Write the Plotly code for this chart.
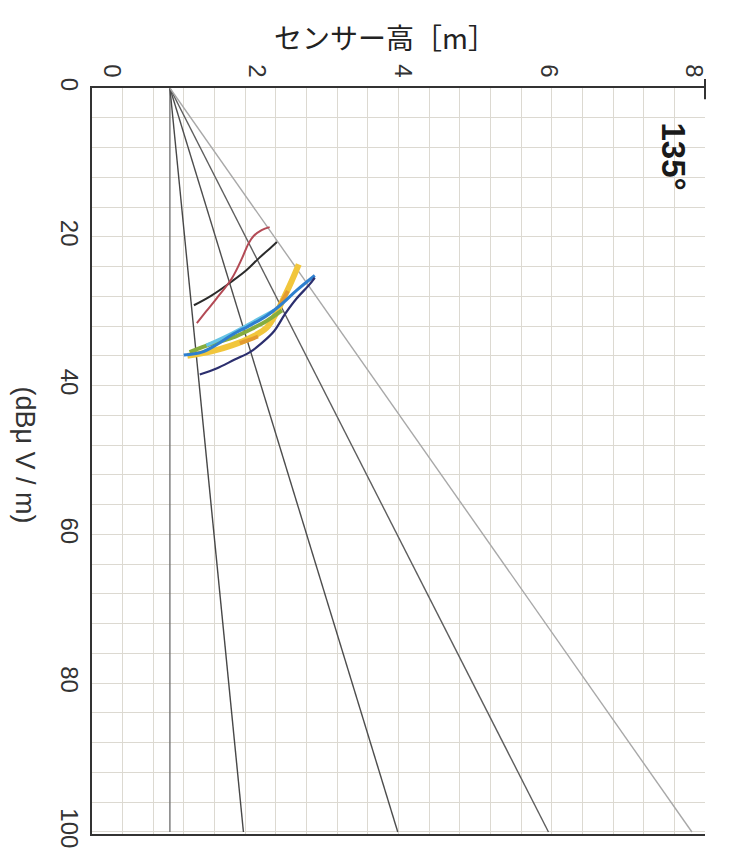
import plotly.graph_objects as go

# Radiating reference lines: all start at the same sensor height at 0 dB
# and reach the listed heights at 100 dBμV/m (first one is the vertical).
fan_start_h = 0.80
fan_start_db = 0
fan_end_db = 100
fan_end_h = [0.80, 1.81, 3.93, 6.00, 7.97]
fan_colors = ["#767676", "#474747", "#4d4d4d", "#5e5e5e", "#a8a8a8"]

# Measured curves (sensor height [m], level [dBμV/m])
red_h = [1.17, 1.30, 1.44, 1.65, 1.79, 1.88, 1.95, 2.06, 2.17]
red_db = [31.6, 30.0, 28.3, 25.6, 22.9, 20.9, 19.9, 19.1, 18.7]

black_h = [1.13, 1.37, 1.65, 1.85, 2.02, 2.17, 2.27]
black_db = [29.2, 27.9, 26.0, 24.5, 22.9, 21.6, 20.7]

yellow_h = [1.04, 1.37, 1.65, 1.92, 2.13, 2.27, 2.38, 2.47, 2.57]
yellow_db = [36.0, 35.4, 34.6, 33.5, 32.2, 30.1, 27.9, 26.0, 23.7]

orange_a_h = [1.76, 1.88, 2.01]
orange_a_db = [34.3, 33.9, 33.4]
orange_b_h = [2.31, 2.42]
orange_b_db = [29.2, 27.3]

green_h = [1.07, 1.37, 1.65, 1.92, 2.13, 2.34]
green_db = [35.5, 34.4, 33.6, 32.4, 31.3, 29.9]

cyan_h = [1.30, 1.65, 1.99, 2.23]
cyan_db = [34.6, 33.0, 31.2, 29.9]

blue_h = [0.99, 1.24, 1.44, 1.65, 1.92, 2.13, 2.34, 2.54, 2.79]
blue_db = [35.9, 35.5, 34.5, 33.2, 31.8, 30.6, 29.0, 27.2, 25.2]

navy_h = [1.21, 1.44, 1.69, 1.90, 2.06, 2.23, 2.38, 2.54, 2.71, 2.79]
navy_db = [38.5, 37.7, 36.5, 35.5, 34.3, 32.7, 30.4, 28.3, 26.5, 25.5]

x_ticks = [0, 2, 4, 6, 8]
y_ticks = [0, 20, 40, 60, 80, 100]

fig = go.Figure()

for h_end, col in zip(fan_end_h, fan_colors):
    fig.add_trace(go.Scatter(
        x=[fan_start_h, h_end], y=[fan_start_db, fan_end_db],
        mode="lines", line=dict(color=col, width=1.4),
        hoverinfo="skip", showlegend=False))

curves = [
    (yellow_h, yellow_db, "#f1c63c", 6),
    (orange_a_h, orange_a_db, "#e39a30", 4),
    (orange_b_h, orange_b_db, "#e39a30", 4),
    (green_h, green_db, "#86ad3e", 4),
    (cyan_h, cyan_db, "#66c4e4", 3.5),
    (blue_h, blue_db, "#2e7fcf", 3),
    (navy_h, navy_db, "#2c2f6e", 2.2),
    (black_h, black_db, "#2b2b2b", 2.0),
    (red_h, red_db, "#b34a55", 2.0),
]
for hx, dby, col, w in curves:
    fig.add_trace(go.Scatter(
        x=hx, y=dby, mode="lines",
        line=dict(color=col, width=w, shape="spline"),
        showlegend=False))

grid_col = "#dcd9d1"
tick_font = dict(family="Liberation Sans, Arial, sans-serif", size=24, color="#333333")

fig.update_xaxes(
    range=[-0.27, 8.15], side="top",
    tickmode="array", tickvals=x_ticks, ticktext=[str(v) for v in x_ticks],
    tickangle=90, tickfont=tick_font, ticks="",
    showline=True, linecolor="#333333", linewidth=2, mirror=True,
    showgrid=False, zeroline=False,
    minor=dict(showgrid=True, tick0=-0.27, dtick=0.421, gridcolor=grid_col, gridwidth=1),
)
fig.update_yaxes(
    range=[100.27, 0],
    tickmode="array", tickvals=y_ticks, ticktext=[str(v) for v in y_ticks],
    tickangle=90, tickfont=tick_font, ticks="",
    showline=True, linecolor="#333333", linewidth=2,
    showgrid=True, gridcolor=grid_col, gridwidth=1, zeroline=False,
    minor=dict(showgrid=True, dtick=4, gridcolor=grid_col, gridwidth=1),
)

fig.add_annotation(
    text="センサー高［m］", xref="paper", yref="paper", x=0.478, y=1.068,
    showarrow=False, xanchor="center", yanchor="middle",
    font=dict(family="Noto Sans CJK JP", size=28, color="#222222"))
fig.add_annotation(
    text="(dBμ V / m)", xref="paper", yref="paper", x=-0.11, y=0.508,
    showarrow=False, textangle=90, xanchor="center", yanchor="middle",
    font=dict(family="Liberation Sans, Arial, sans-serif", size=27, color="#333333"))
fig.add_annotation(
    text="<b>135°</b>", xref="paper", yref="paper", x=0.948, y=0.908,
    showarrow=False, textangle=90, xanchor="center", yanchor="middle",
    font=dict(family="Liberation Sans, Arial, sans-serif", size=33, color="#1a1a1a"))

# short end mark at the right end of the top axis
fig.add_shape(type="line", xref="paper", yref="paper", x0=1, x1=1, y0=0.985, y1=1.012,
              line=dict(color="#333333", width=2))

fig.update_layout(
    width=729, height=860,
    margin=dict(l=92, r=24, t=88, b=20),
    paper_bgcolor="white", plot_bgcolor="white",
)

fig.write_html("out.html")
